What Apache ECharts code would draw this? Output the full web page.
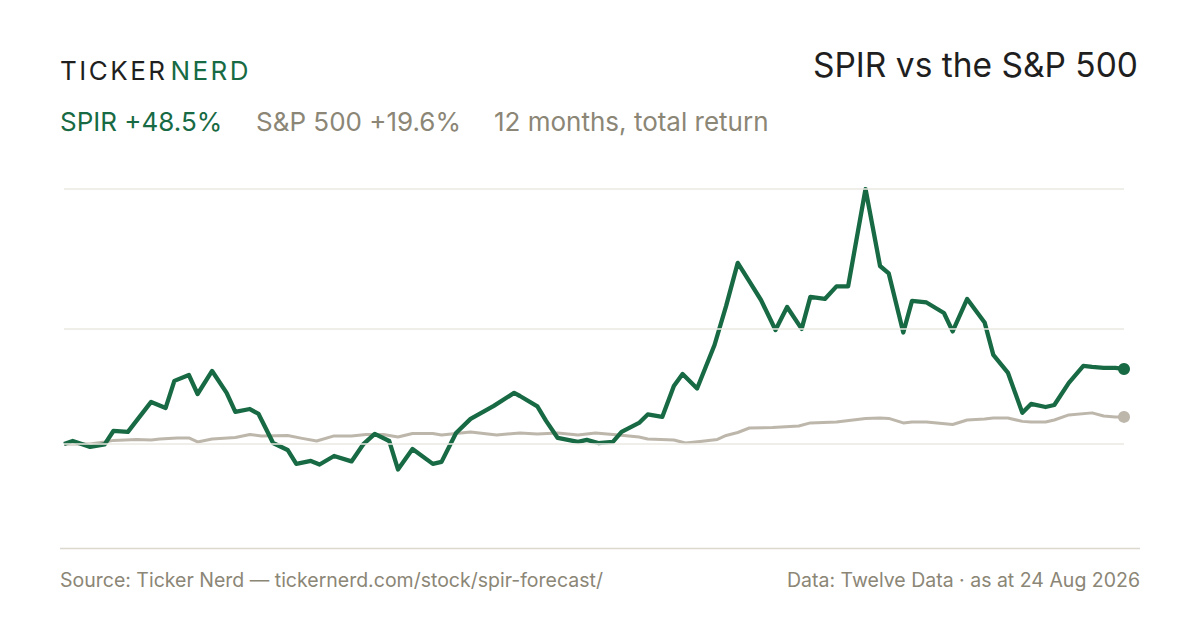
<!DOCTYPE html>
<html>
<head>
<meta charset="utf-8">
<script src="https://cdn.jsdelivr.net/npm/echarts@6/dist/echarts.min.js"></script>
<style>
html,body{margin:0;padding:0;background:#fff;}
#chart{width:1200px;height:630px;}
</style>
</head>
<body>
<div id="chart"></div>
<script>
// Days since start of the 12-month window, and cumulative return (%)
const spirDays = [0,3,9,14,17,22,30,35,38,43,46,51,56,59,64,67,72,77,80,85,88,93,99,103,107,112,115,120,127,130,135,140,148,155,157,163,166,170,177,180,184,189,192,198,201,206,210,213,218,224,228,232,236,240,245,249,254,257,262,266,270,276,281,284,289,292,297,303,306,311,317,320,325,330,333,338,341,346,351,354,358,362,365];
const spirValues = [0,1.9,-1.9,-0.3,8.4,7.8,27.2,23.3,40.8,44.6,32.3,47.2,33.0,20.7,22.6,19.4,0.6,-3.9,-12.9,-11.0,-13.3,-7.8,-11.3,-0.3,6.5,1.9,-16.5,-3.2,-12.9,-11.6,7.1,16.2,24.6,33.0,31.0,24.3,14.9,3.9,1.3,2.6,0.6,1.3,7.8,13.6,19.1,17.5,37.5,45.3,35.9,64.0,89.3,117.1,105.1,93.1,73.7,88.6,74.4,95.1,93.8,101.9,101.9,164.9,115.1,110.3,72.1,92.5,91.5,84.7,72.8,93.8,78.6,57.6,46.2,20.1,25.9,23.9,25.2,39.5,50.5,49.8,49.2,49.2,48.5];
const spxDays = [0,9,14,17,25,30,33,39,43,46,51,59,64,68,77,82,87,93,99,104,110,115,120,127,130,140,149,157,163,170,177,183,191,198,201,210,214,219,225,228,232,236,244,253,257,266,276,281,284,289,292,297,306,311,317,320,325,330,333,338,341,346,354,358,362,365];
const spxValues = [0,0,1.3,2.3,2.9,2.6,3.2,3.9,3.9,1.3,3.2,4.2,6.1,5.2,5.5,3.6,1.9,5.2,5.2,6.1,6.1,4.5,6.8,6.8,5.8,7.8,5.8,7.1,6.5,7.1,5.8,7.1,5.8,4.5,3.2,2.6,0.6,1.6,2.9,5.5,7.4,10.3,10.7,11.6,13.6,14.2,16.5,16.8,16.5,13.6,14.2,14.2,12.6,15.5,16.2,16.8,16.8,14.6,14.2,14.2,15.5,18.8,20.1,18.1,17.5,17.5];
const gridValues = [0, 74.4, 164.9];
const yRange = [-67.3, 164.9];
const seriesNames = ['SPIR', 'S&P 500'];
const headline = ['SPIR +48.5%', 'S&P 500 +19.6%', '12 months, total return'];

const GREEN = '#176a43';
const SAND = '#bdb6ab';
const MUTED = '#8b8676';
const FONT = 'Inter, "Noto Sans", sans-serif';

function pairs(xs, ys){ return xs.map((x,i)=>[x, ys[i]]); }
function endDot(len, size){ return (v, p) => p.dataIndex === len - 1 ? size : 0; }

const logoLetters = 'TICKER NERD'.split('');
let logoText = '';
logoLetters.forEach((c, i) => {
  if (c === ' ') { logoText += '{sp| }'; }
  else { logoText += (i < 6 ? '{d|' : '{g|') + c + '}'; }
});

const chart = echarts.init(document.getElementById('chart'), null, {renderer:'svg'});
chart.setOption({
  animation:false,
  backgroundColor:'#ffffff',
  grid:{left:64, right:76, top:189, bottom:82},
  xAxis:{type:'value', min:0, max:365, show:false},
  yAxis:{type:'value', min:yRange[0], max:yRange[1], show:false},
  series:[
    {
      type:'line', name:'grid', data:[], silent:true, z:1,
      markLine:{
        symbol:'none', silent:true, label:{show:false},
        lineStyle:{color:'#ebe8e2', width:1.5, type:'solid'},
        data: gridValues.map(v => ({yAxis:v}))
      }
    },
    {
      name:seriesNames[1], type:'line', z:2,
      data: pairs(spxDays, spxValues),
      showAllSymbol:true, symbol:'circle',
      symbolSize: endDot(spxDays.length, 12),
      lineStyle:{color:SAND, width:3, join:'round'},
      itemStyle:{color:SAND, borderWidth:0}
    },
    {
      name:seriesNames[0], type:'line', z:3,
      data: pairs(spirDays, spirValues),
      showAllSymbol:true, symbol:'circle',
      symbolSize: endDot(spirDays.length, 12),
      lineStyle:{color:GREEN, width:4.3, join:'round'},
      itemStyle:{color:GREEN, borderWidth:0}
    }
  ],
  graphic:[
    {
      type:'text', left:60, top:57,
      style:{
        text: logoText,
        rich:{
          d:{fontFamily:FONT, fontSize:26, fontWeight:400, fill:'#1f1f1f', color:'#1f1f1f', padding:[0,2.5,0,0]},
          g:{fontFamily:FONT, fontSize:26, fontWeight:400, fill:GREEN, color:GREEN, padding:[0,2.5,0,0]},
          sp:{fontFamily:FONT, fontSize:10, padding:[0,0,0,0]}
        }
      }
    },
    {
      type:'text', right:62, top:48,
      style:{text:'SPIR vs the S&P 500', fontFamily:FONT, fontSize:33.5, fontWeight:400, fill:'#1f1f1f'}
    },
    {
      type:'text', left:60, top:108,
      style:{text:headline[0], fontFamily:FONT, fontSize:26, fill:GREEN}
    },
    {
      type:'text', left:256, top:108,
      style:{text:headline[1], fontFamily:FONT, fontSize:26, fill:MUTED}
    },
    {
      type:'text', left:494, top:108,
      style:{text:headline[2], fontFamily:FONT, fontSize:26, fill:MUTED}
    },
    {
      type:'line', silent:true,
      shape:{x1:60, y1:548.5, x2:1140, y2:548.5},
      style:{stroke:'#dcd8cd', lineWidth:1.5}
    },
    {
      type:'text', left:60, top:570,
      style:{text:'Source: Ticker Nerd \u2014 tickernerd.com/stock/spir-forecast/', fontFamily:FONT, fontSize:19.5, fill:MUTED}
    },
    {
      type:'text', right:60, top:570,
      style:{text:'Data: Twelve Data \u00b7 as at 24 Aug 2026', fontFamily:FONT, fontSize:19.5, fill:MUTED}
    }
  ]
});
</script>
</body>
</html>
